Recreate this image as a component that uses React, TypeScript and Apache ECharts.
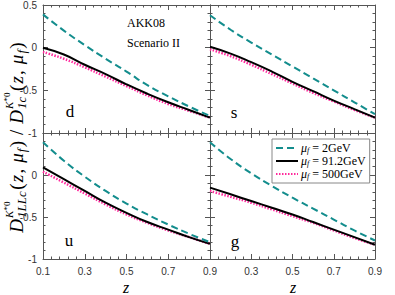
import React, { useEffect, useRef } from "react";
import * as echarts from "echarts";

const zValues = [0.1, 0.2, 0.3, 0.4, 0.5, 0.6, 0.7, 0.8, 0.9];
const panelNames = ["d", "s", "u", "g"];
const legendNames = ["2GeV", "91.2GeV", "500GeV"];

const d_2GeV = [0.39, 0.2, 0.03, -0.13, -0.28, -0.44, -0.57, -0.69, -0.8];
const d_91GeV = [0.0, -0.08, -0.2, -0.31, -0.43, -0.54, -0.64, -0.73, -0.82];
const d_500GeV = [-0.05, -0.13, -0.23, -0.34, -0.45, -0.56, -0.66, -0.74, -0.82];

const s_2GeV = [0.38, 0.21, 0.06, -0.08, -0.22, -0.36, -0.5, -0.64, -0.78];
const s_91GeV = [0.01, -0.07, -0.17, -0.28, -0.4, -0.51, -0.62, -0.72, -0.82];
const s_500GeV = [-0.02, -0.1, -0.2, -0.31, -0.42, -0.53, -0.63, -0.73, -0.82];

const u_2GeV = [0.39, 0.17, -0.02, -0.19, -0.34, -0.47, -0.59, -0.7, -0.8];
const u_91GeV = [0.09, -0.05, -0.19, -0.33, -0.45, -0.56, -0.65, -0.74, -0.82];
const u_500GeV = [0.04, -0.09, -0.22, -0.35, -0.47, -0.57, -0.66, -0.74, -0.82];

const g_2GeV = [0.39, 0.19, 0.02, -0.13, -0.27, -0.4, -0.53, -0.66, -0.78];
const g_91GeV = [-0.15, -0.23, -0.31, -0.39, -0.47, -0.56, -0.65, -0.74, -0.83];
const g_500GeV = [-0.19, -0.26, -0.33, -0.41, -0.49, -0.57, -0.66, -0.75, -0.83];

const panelData = [
  [d_2GeV, d_91GeV, d_500GeV],
  [s_2GeV, s_91GeV, s_500GeV],
  [u_2GeV, u_91GeV, u_500GeV],
  [g_2GeV, g_91GeV, g_500GeV],
];

const TEAL = "#138d8d";
const PINK = "#ff2a9c";
const FRAME = "#555";
const SERIF = "'Liberation Serif', 'Times New Roman', serif";
const SANS = "'Liberation Sans', Arial, sans-serif";

const grids = [
  { left: 43, top: 5, width: 167, height: 128 },
  { left: 210, top: 5, width: 165, height: 128 },
  { left: 43, top: 133, width: 167, height: 126 },
  { left: 210, top: 133, width: 165, height: 126 },
];

function measure(text: string, size: number, italic: boolean) {
  const c = document.createElement("canvas").getContext("2d");
  if (!c) return text.length * size * 0.5;
  c.font = `${italic ? "italic " : ""}${size}px ${SERIF}`;
  return c.measureText(text).width;
}

function buildYTitle() {
  const M = 19;
  const S = 13;
  const GAP = 1.2;
  const children: any[] = [];
  let x = 0;
  const put = (t: string, size: number, italic: boolean, dy: number, adv = true) => {
    children.push({
      type: "text",
      x,
      y: dy,
      style: {
        text: t,
        fontSize: size,
        fontStyle: italic ? "italic" : "normal",
        fontFamily: SERIF,
        fill: "#000",
        align: "left",
        verticalAlign: "middle",
      },
    });
    const w = measure(t, size, italic);
    if (adv) x += w + GAP;
    return w;
  };
  const dPart = (sub: string) => {
    put("D", M, true, 0);
    const x0 = x;
    const w1 = put("K", S - 2, true, -M * 0.36, false);
    x += w1;
    const w2 = put("*0", S - 4, false, -M * 0.5, false);
    x = x0;
    const w3 = put(sub, S, true, M * 0.3, false);
    x = x0 + Math.max(w1 + w2, w3) + 1.5;
  };
  const arg = () => {
    put("(", M, false, 0);
    put("z", M, true, 0);
    put(", ", M, false, 0);
    put("μ", M, true, 0);
    put("f", S, true, M * 0.3);
    put(")", M, false, 0);
  };
  dPart("1LLc");
  arg();
  put(" / ", M, false, 0);
  dPart("1c");
  arg();
  const L = x;
  children.forEach((c) => (c.x -= L / 2));
  return { type: "group", x: 16, y: 137, rotation: Math.PI / 2, children };
}

export default function App() {
  const ref = useRef<HTMLDivElement>(null);
  useEffect(() => {
    if (!ref.current) return;
    const chart = echarts.init(ref.current, undefined, { renderer: "svg" });

    const xAxis: any[] = [];
    const yAxis: any[] = [];
    const series: any[] = [];
    grids.forEach((g, i) => {
      const bottomRow = i >= 2;
      const leftCol = i % 2 === 0;
      const tick = { show: true, inside: true, length: 5, lineStyle: { color: FRAME, width: 1 } };
      const minor = { show: true, splitNumber: 5, length: 2.5, lineStyle: { color: FRAME, width: 1 } };
      const line = { show: true, onZero: false, lineStyle: { color: FRAME, width: 1 } };
      xAxis.push({
        type: "value", gridIndex: i, position: "bottom", min: 0.1, max: 0.9, interval: 0.2,
        axisLine: line, axisTick: tick, minorTick: minor, splitLine: { show: false },
        axisLabel: {
          show: bottomRow, margin: 7, fontSize: 10, color: "#333", fontFamily: SANS,
          formatter: (v: number) => (!leftCol && Math.abs(v - 0.1) < 1e-6 ? "" : v.toFixed(1)),
        },
      });
      xAxis.push({
        type: "value", gridIndex: i, position: "top", min: 0.1, max: 0.9, interval: 0.2,
        axisLine: line, axisTick: tick, minorTick: minor, splitLine: { show: false },
        axisLabel: { show: false },
      });
      yAxis.push({
        type: "value", gridIndex: i, position: "left", min: -1, max: 0.5, interval: 0.5,
        axisLine: line, axisTick: tick, minorTick: minor, splitLine: { show: false },
        axisLabel: {
          show: leftCol, margin: 6, fontSize: 10, color: "#333", fontFamily: SANS,
          formatter: (v: number) => (bottomRow && Math.abs(v - 0.5) < 1e-6 ? "" : String(+v.toFixed(1))),
        },
      });
      yAxis.push({
        type: "value", gridIndex: i, position: "right", min: -1, max: 0.5, interval: 0.5,
        axisLine: line, axisTick: tick, minorTick: minor, splitLine: { show: false },
        axisLabel: { show: false },
      });
      const [a2, a91, a500] = panelData[i];
      const mk = (name: string, arr: number[], ls: any, z: number) => ({
        name, type: "line", xAxisIndex: 2 * i, yAxisIndex: 2 * i, smooth: true, symbol: "none",
        data: zValues.map((zz, k) => [zz, arr[k]]), lineStyle: ls, itemStyle: { color: ls.color }, z,
      });
      series.push(mk(legendNames[2], a500, { color: PINK, width: 2.5, type: [1.5, 1.5] }, 2));
      series.push(mk(legendNames[1], a91, { color: "#000", width: 2 }, 3));
      series.push(mk(legendNames[0], a2, { color: TEAL, width: 2, type: [7, 4] }, 4));
    });

    const letterPos = [[70, 111], [234, 112], [69, 240], [235, 241]];
    const graphic: any[] = panelNames.map((n, i) => ({
      type: "text", x: letterPos[i][0], y: letterPos[i][1],
      style: { text: n, fontSize: 17, fontFamily: SERIF, fill: "#000", align: "center", verticalAlign: "middle" },
    }));
    graphic.push({
      type: "text", x: 127, y: 23,
      style: { text: "AKK08", fontSize: 12, fontFamily: SERIF, fill: "#000", align: "left", verticalAlign: "middle" },
    });
    graphic.push({
      type: "text", x: 127, y: 43,
      style: { text: "Scenario II", fontSize: 12, fontFamily: SERIF, fill: "#000", align: "left", verticalAlign: "middle" },
    });
    [126, 293].forEach((cx) =>
      graphic.push({
        type: "text", x: cx, y: 287,
        style: { text: "z", fontSize: 16, fontStyle: "italic", fontFamily: SERIF, fill: "#000", align: "center", verticalAlign: "middle" },
      })
    );
    graphic.push(buildYTitle());

    chart.setOption({
      animation: false,
      backgroundColor: "#fff",
      grid: grids.map((g) => ({ ...g, containLabel: false })),
      xAxis,
      yAxis,
      series,
      graphic,
      legend: {
        data: [legendNames[0], legendNames[1], legendNames[2]],
        orient: "vertical", left: 272, top: 139,
        itemWidth: 22, itemHeight: 10, itemGap: 1,
        backgroundColor: "#fff", borderColor: "#888", borderWidth: 1, borderRadius: 0,
        padding: [3, 4, 3, 3],
        selectedMode: false,
        itemStyle: { opacity: 0 },
        formatter: (name: string) => `{m|μ}{f|f}{t| = ${name}}`,
        textStyle: {
          fontFamily: SERIF, fontSize: 12, color: "#000", padding: [0, 0, 0, -2],
          rich: {
            m: { fontFamily: SERIF, fontSize: 12, fontStyle: "italic", lineHeight: 12, verticalAlign: "middle" },
            f: { fontFamily: SERIF, fontSize: 8, fontStyle: "italic", lineHeight: 12, verticalAlign: "bottom" },
            t: { fontFamily: SERIF, fontSize: 12, lineHeight: 12, verticalAlign: "middle" },
          },
        },
      },
    });
    return () => chart.dispose();
  }, []);
  return <div ref={ref} style={{ position: "fixed", left: 0, top: 0, width: 395, height: 295 }} />;
}
